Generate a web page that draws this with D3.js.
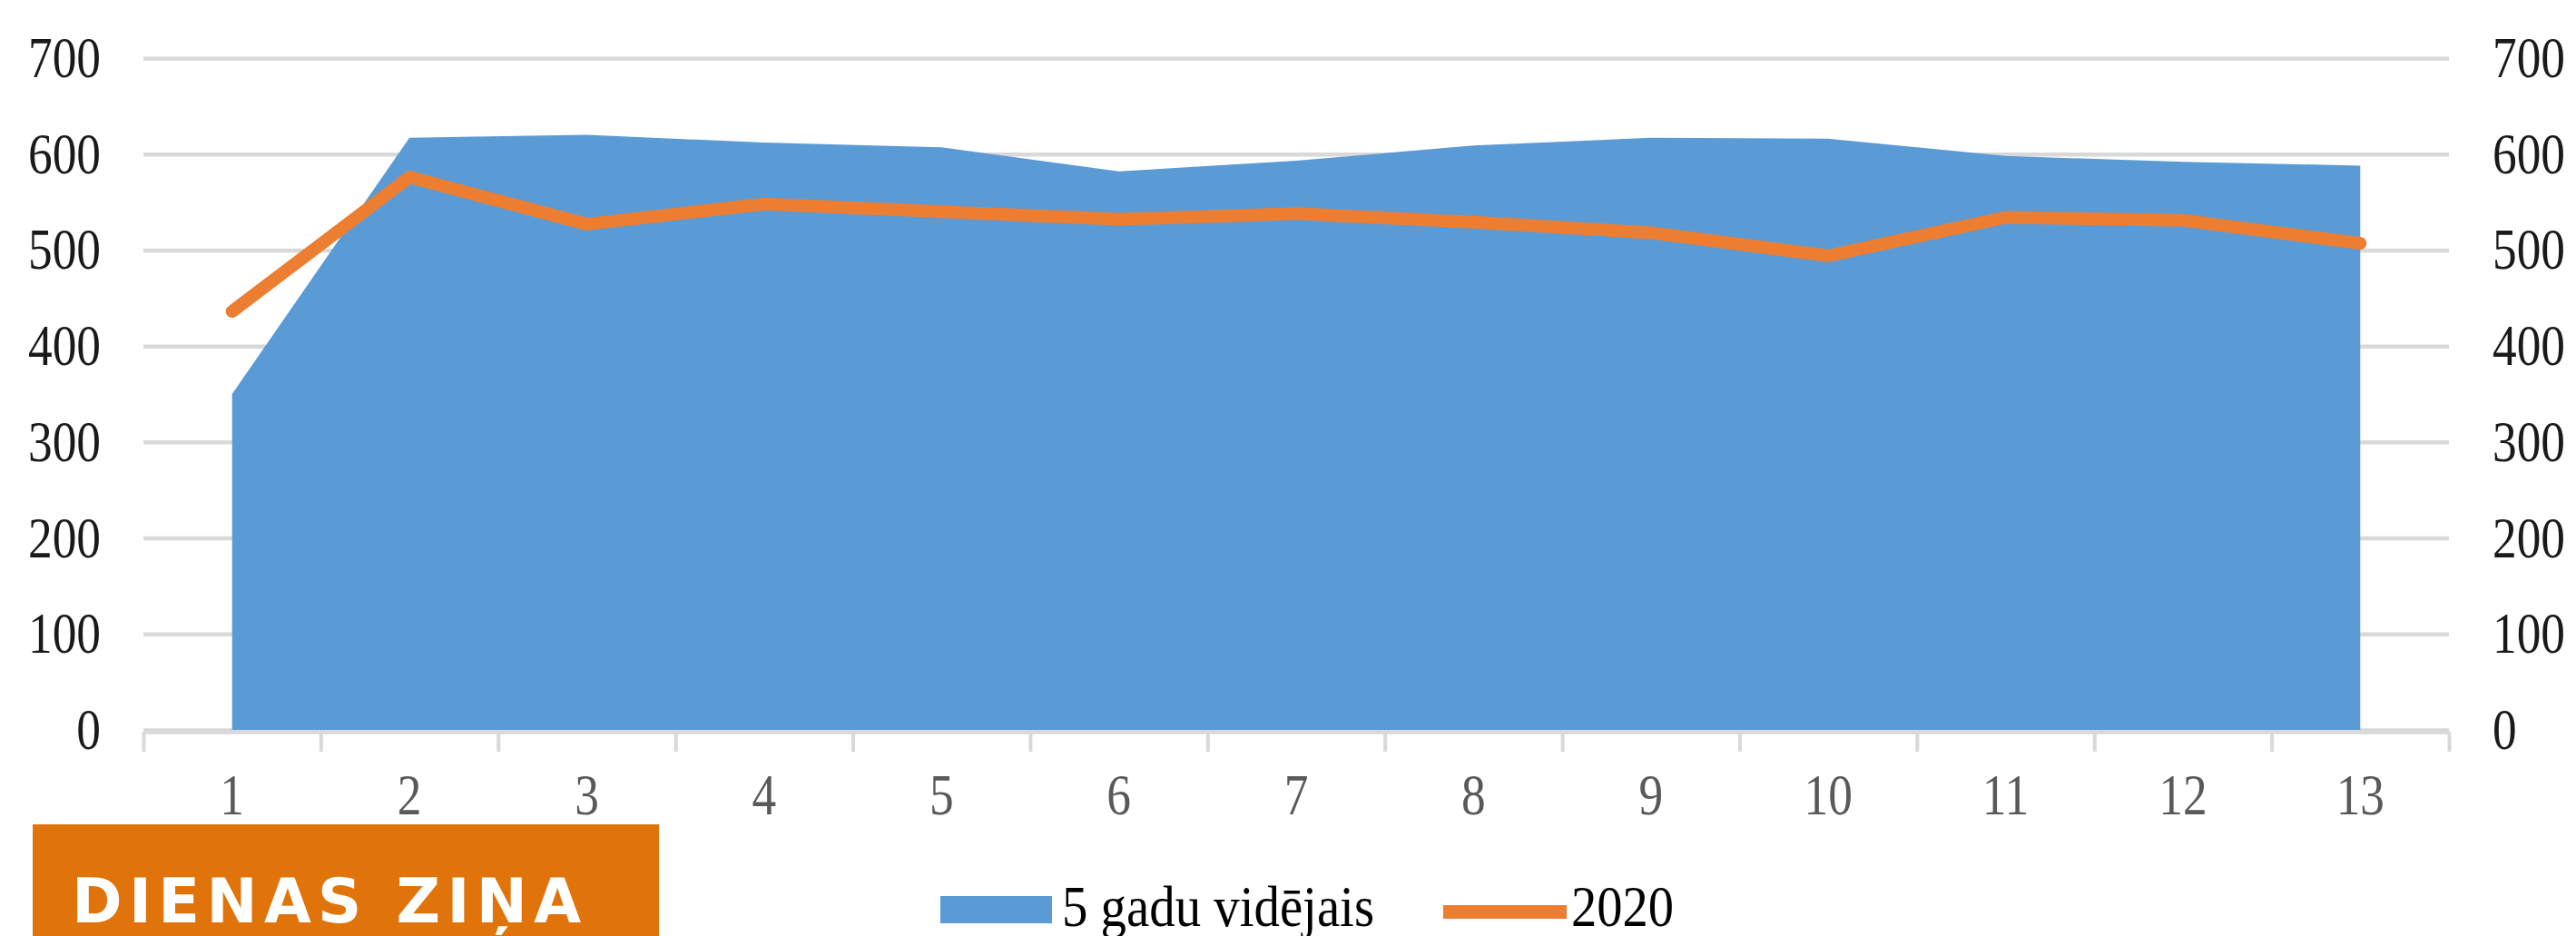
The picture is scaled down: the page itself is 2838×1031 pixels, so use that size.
<!DOCTYPE html>
<html><head><meta charset="utf-8">
<script src="https://cdn.jsdelivr.net/npm/d3@7"></script>
<style>html,body{margin:0;padding:0;background:#fff;overflow:hidden}</style>
</head><body>
<svg id="c" width="2838" height="1031"></svg>
<script>
const categories = [1,2,3,4,5,6,7,8,9,10,11,12,13];
const avg5 = [350,617,620,612,607,582,593,609,617,616,598,592,588];
const y2020 = [436,576,527,548,540,532,538,529,518,494,534,531,507];
const yTicks = [0,100,200,300,400,500,600,700];
const seriesNames = ["5 gadu vidējais","2020"];
const badgeText = "DIENAS ZIŅA";

const svg = d3.select("#c");
const L = 158, R = 2698, T = 64, B = 804;
const x = d3.scaleBand().domain(categories).range([L, R]);
const xc = d => x(d) + x.bandwidth()/2;
const y = d3.scaleLinear().domain([0,700]).range([B, T]);
const xEdge = d3.scaleLinear().domain([0, categories.length]).range([L, R]);
const FONT = "'Liberation Serif','Times New Roman',serif";
const SX = 0.834;

// gridlines
const grid = svg.append("g").attr("transform",`translate(${L},0)`)
  .call(d3.axisLeft(y).tickValues(yTicks).tickSize(-(R-L)).tickFormat(""));
grid.select(".domain").remove();
grid.selectAll("line").attr("stroke","#d9d9d9").attr("stroke-width",4.5);

// x axis line + boundary ticks
const xAx = svg.append("g").attr("transform",`translate(0,${B+2})`)
  .call(d3.axisBottom(xEdge).tickValues(d3.range(categories.length+1)).tickSize(22).tickSizeOuter(0).tickFormat(""));
xAx.select(".domain").attr("stroke","#d9d9d9").attr("stroke-width",4.5);
xAx.selectAll("line").attr("stroke","#d9d9d9").attr("stroke-width",4);

// area
svg.append("path").datum(categories)
  .attr("fill","#5b9bd5")
  .attr("d", d3.area().x(d=>xc(d)).y0(y(0)).y1((d,i)=>y(avg5[i])));

// line
svg.append("path").datum(categories)
  .attr("fill","none").attr("stroke","#ed7d31").attr("stroke-width",14)
  .attr("stroke-linejoin","round").attr("stroke-linecap","round")
  .attr("d", d3.line().x(d=>xc(d)).y((d,i)=>y(y2020[i])));

function styleText(sel, color){
  sel.selectAll("text")
    .attr("font-family",FONT).attr("font-size",64).attr("fill",color)
    .each(function(){
      const t = d3.select(this);
      const x0 = +t.attr("x") || 0;
      t.attr("x", x0/SX).attr("transform",`scale(${SX},1)`);
    });
}

// left axis labels
const yl = svg.append("g").attr("transform",`translate(${L},0)`)
  .call(d3.axisLeft(y).tickValues(yTicks).tickSize(0).tickPadding(47));
yl.select(".domain").remove();
styleText(yl, "#1a1a1a");

// right axis labels
const yr = svg.append("g").attr("transform",`translate(${R},0)`)
  .call(d3.axisRight(y).tickValues(yTicks).tickSize(0).tickPadding(48));
yr.select(".domain").remove();
styleText(yr, "#1a1a1a");

// x labels
const xl = svg.append("g").attr("transform",`translate(0,${B})`)
  .call(d3.axisBottom(x).tickSize(0).tickPadding(48));
xl.select(".domain").remove();
styleText(xl, "#595959");

// legend
const lg = svg.append("g");
lg.append("rect").attr("x",1036).attr("y",987).attr("width",123).attr("height",30).attr("fill","#5b9bd5");
lg.append("text").attr("x",1170).attr("y",1020).text(seriesNames[0])
  .attr("font-family",FONT).attr("font-size",64).attr("fill","#000")
  .attr("textLength",344).attr("lengthAdjust","spacingAndGlyphs");
lg.append("line").attr("x1",1590).attr("x2",1726).attr("y1",1004.5).attr("y2",1004.5)
  .attr("stroke","#ed7d31").attr("stroke-width",15);
lg.append("text").attr("x",1731).attr("y",1020).text(seriesNames[1])
  .attr("font-family",FONT).attr("font-size",64).attr("fill","#000")
  .attr("textLength",113).attr("lengthAdjust","spacingAndGlyphs");

// badge
svg.append("rect").attr("x",36).attr("y",908).attr("width",690).attr("height",130).attr("fill","#e0740a");
svg.append("text").attr("x",79).attr("y",1016).text(badgeText)
  .attr("font-family","'DejaVu Sans', sans-serif").attr("font-weight","bold").attr("font-size",67)
  .attr("fill","#fff").attr("textLength",561).attr("lengthAdjust","spacing");
</script>
</body></html>
